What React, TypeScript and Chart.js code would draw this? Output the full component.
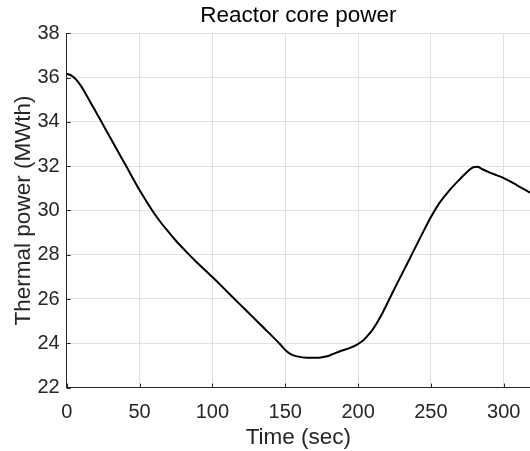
import { useEffect, useRef } from "react";
import { Chart, registerables } from "chart.js";

Chart.register(...registerables);

const chartTitle = "Reactor core power";
const xAxisLabel = "Time (sec)";
const yAxisLabel = "Thermal power (MWth)";

const timeSec = [
  0, 3, 6, 10, 14, 20, 23, 30, 35, 41, 45, 50, 55, 60, 65, 70, 75, 82, 88, 100,
  110, 120, 128, 135, 140, 146, 150, 154, 158, 165, 173, 178, 183, 188, 194, 199,
  203, 206, 210, 215, 221, 227, 233, 240, 246, 250, 256, 263, 270, 275, 279, 282,
  285, 290, 295, 300, 305, 310, 318,
];
const powerMWth = [
  36.17, 36.1, 35.94, 35.6, 35.15, 34.45, 34.1, 33.27, 32.68, 31.98, 31.5,
  30.92, 30.38, 29.87, 29.42, 29.02, 28.63, 28.14, 27.74, 26.99, 26.34, 25.69,
  25.17, 24.71, 24.39, 23.99, 23.7, 23.5, 23.41, 23.35, 23.35, 23.4, 23.52,
  23.65, 23.78, 23.93, 24.1, 24.3, 24.62, 25.15, 25.93, 26.73, 27.5, 28.42,
  29.2, 29.7, 30.35, 30.93, 31.42, 31.75, 31.95, 31.97, 31.87, 31.72, 31.59,
  31.46, 31.29, 31.1, 30.8,
];
const xTickValues = [0, 50, 100, 150, 200, 250, 300];
const yTickValues = [22, 24, 26, 28, 30, 32, 34, 36, 38];

const FONT = "'Liberation Sans', Arial, Helvetica, sans-serif";
const AXIS_COLOR = "#262626";
const GRID_COLOR = "#e0e0e0";

const innerTicks = {
  id: "innerTicks",
  afterDatasetsDraw(chart: any) {
    const { ctx, chartArea, scales } = chart;
    ctx.save();
    ctx.strokeStyle = AXIS_COLOR;
    ctx.lineWidth = 1;
    ctx.beginPath();
    for (const v of yTickValues) {
      const y = Math.round(scales.y.getPixelForValue(v)) + 0.5;
      ctx.moveTo(chartArea.left, y);
      ctx.lineTo(chartArea.left + 4, y);
    }
    for (const v of xTickValues) {
      const x = Math.round(scales.x.getPixelForValue(v)) + 0.5;
      ctx.moveTo(x, chartArea.bottom);
      ctx.lineTo(x, chartArea.bottom - 4);
    }
    ctx.stroke();
    ctx.restore();
  },
};

export default function App() {
  const canvasRef = useRef<HTMLCanvasElement | null>(null);

  useEffect(() => {
    if (!canvasRef.current) return;
    const points = timeSec.map((t, i) => ({ x: t, y: powerMWth[i] }));
    const chart = new Chart(canvasRef.current, {
      type: "line",
      data: {
        datasets: [
          {
            data: points,
            borderColor: "#000000",
            borderWidth: 2,
            pointRadius: 0,
            fill: false,
            cubicInterpolationMode: "monotone",
          },
        ],
      },
      options: {
        responsive: false,
        animation: false,
        layout: { padding: 0 },
        plugins: {
          legend: { display: false },
          tooltip: { enabled: false },
          title: {
            display: true,
            fullSize: false,
            text: chartTitle,
            color: "#000000",
            font: { family: FONT, size: 22.5, weight: "normal", lineHeight: 1.2 },
            padding: { top: 2.5, bottom: 3.7 },
          },
        },
        scales: {
          x: {
            type: "linear",
            min: 0,
            max: 318,
            afterBuildTicks: (scale: any) => {
              scale.ticks = xTickValues.map((v) => ({ value: v }));
            },
            afterFit: (scale: any) => {
              scale.height = 63.4;
              scale.paddingLeft = 0;
              scale.paddingRight = 0;
            },
            grid: { color: GRID_COLOR, lineWidth: 1, drawTicks: false },
            border: { color: AXIS_COLOR, width: 1 },
            ticks: {
              color: AXIS_COLOR,
              font: { family: FONT, size: 20 },
              padding: 12.5,
              maxRotation: 0,
              autoSkip: false,
            },
            title: {
              display: true,
              text: xAxisLabel,
              color: AXIS_COLOR,
              font: { family: FONT, size: 22.5, lineHeight: 1.2 },
              padding: { top: 0, bottom: 0 },
            },
          },
          y: {
            type: "linear",
            min: 22,
            max: 38,
            afterBuildTicks: (scale: any) => {
              scale.ticks = yTickValues.map((v) => ({ value: v }));
            },
            afterFit: (scale: any) => {
              scale.width = 66.7;
            },
            grid: { color: GRID_COLOR, lineWidth: 1, drawTicks: false },
            border: { color: AXIS_COLOR, width: 1 },
            ticks: {
              color: AXIS_COLOR,
              font: { family: FONT, size: 20 },
              padding: 7,
              autoSkip: false,
            },
            title: {
              display: true,
              text: yAxisLabel,
              color: AXIS_COLOR,
              font: { family: FONT, size: 22.5, lineHeight: 1.2 },
              padding: { top: 10.5, bottom: 0 },
            },
          },
        },
      },
      plugins: [innerTicks],
    } as any);
    return () => chart.destroy();
  }, []);

  return (
    <div style={{ position: "fixed", left: 0, top: 0, width: 530, height: 451, background: "#ffffff" }}>
      <canvas ref={canvasRef} width={530} height={451} style={{ display: "block" }} />
    </div>
  );
}
